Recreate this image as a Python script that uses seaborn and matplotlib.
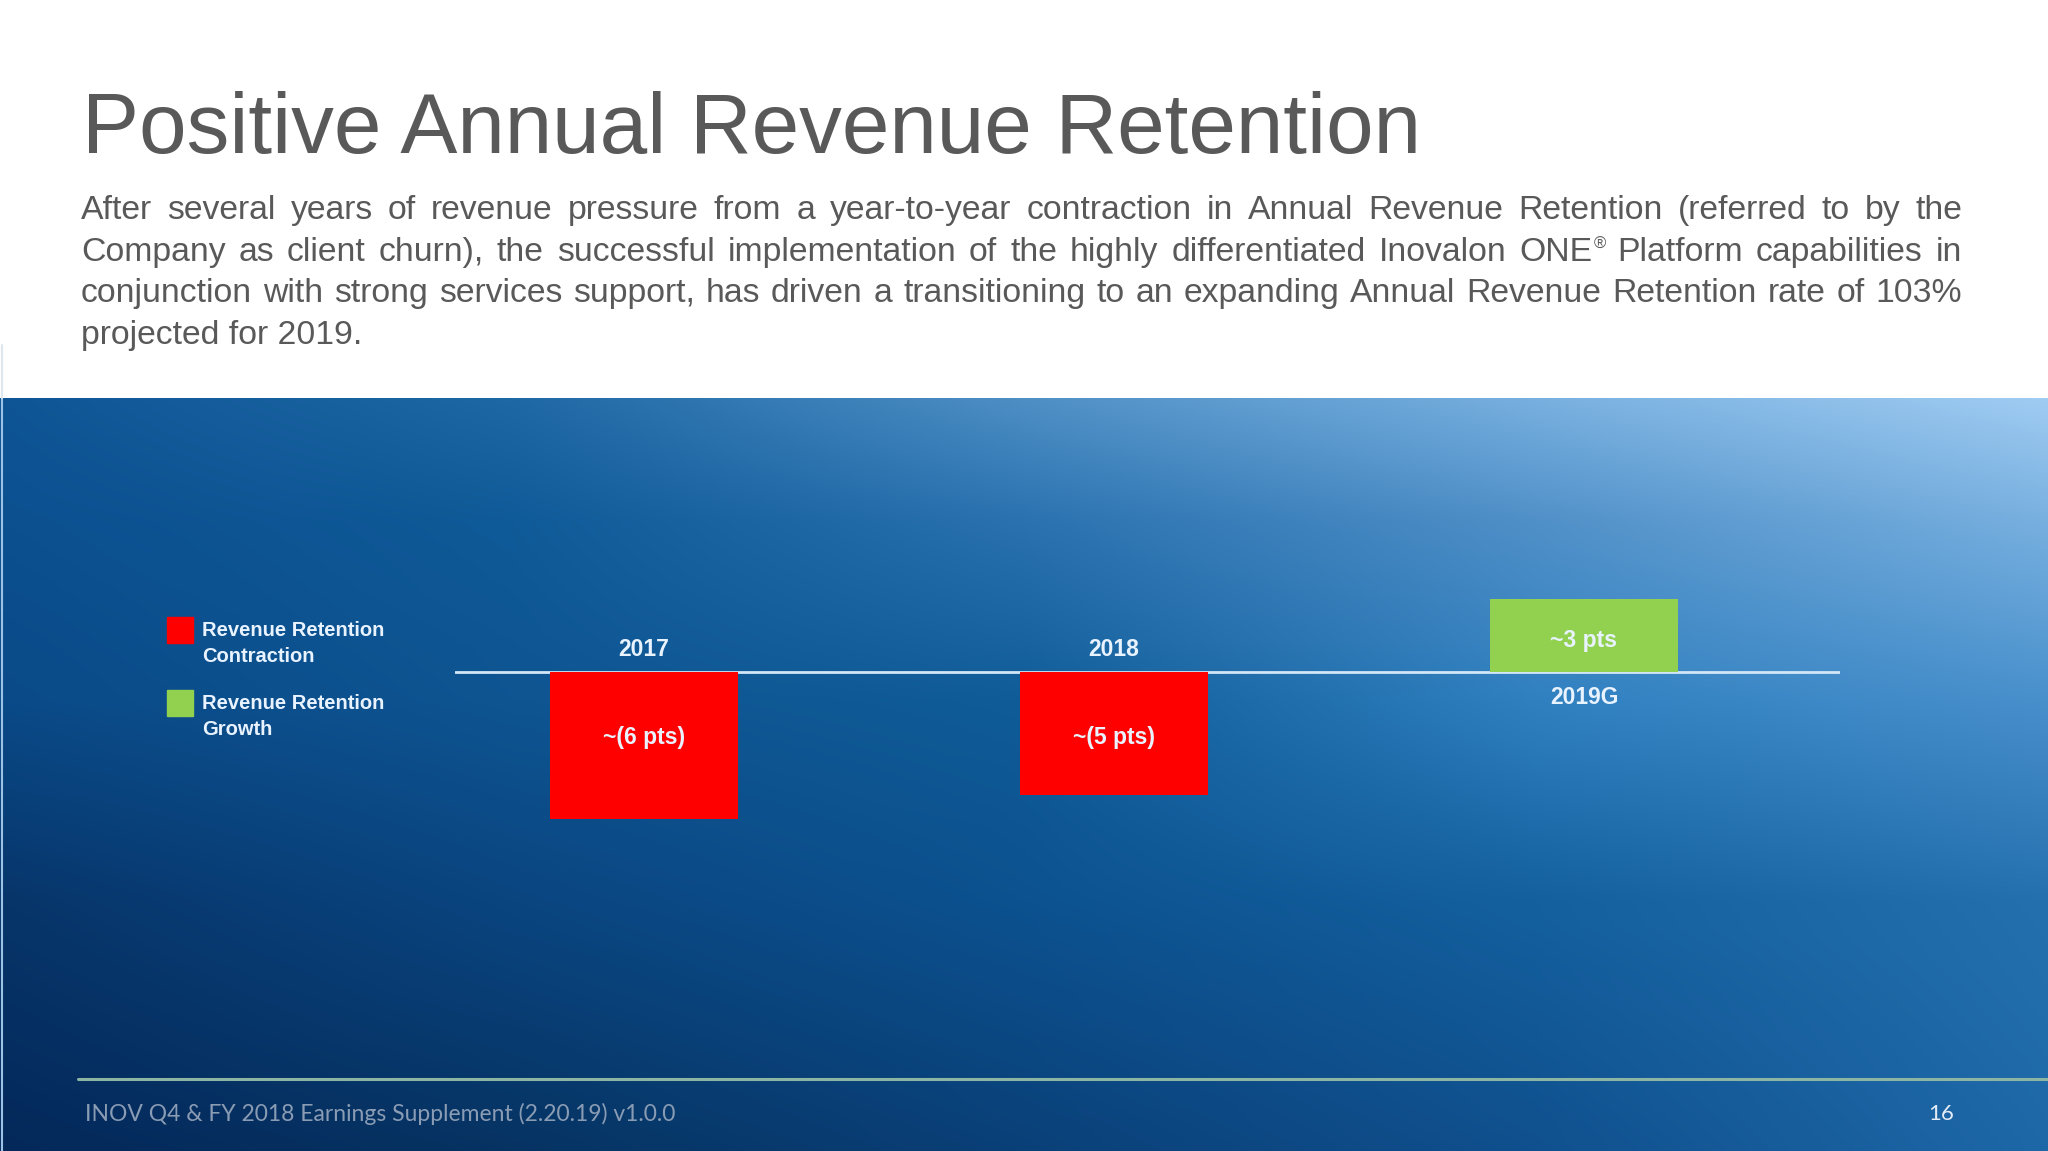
import numpy as np
import pandas as pd
import seaborn as sns
import matplotlib.pyplot as plt
from matplotlib.colors import to_rgb
from matplotlib.patches import Rectangle

# Chart data
years = ['2017', '2018', '2019G']
change_pts = [-6, -5, 3]
value_labels = ['~(6 pts)', '~(5 pts)', '~3 pts']
kinds = ['Contraction', 'Contraction', 'Growth']
legend_kinds = ['Contraction', 'Growth']
legend_labels = ['Revenue Retention\nContraction', 'Revenue Retention\nGrowth']
kind_colors = ['#ff0000', '#92d050']

title = 'Positive Annual Revenue Retention'
body_lines = [
    'After several years of revenue pressure from a year-to-year contraction in Annual Revenue Retention (referred to by the',
    'Company as client churn), the successful implementation of the highly differentiated Inovalon ONE® Platform capabilities in',
    'conjunction with strong services support, has driven a transitioning to an expanding Annual Revenue Retention rate of 103%',
    'projected for 2019.',
]
footer = 'INOV Q4 & FY 2018 Earnings Supplement (2.20.19) v1.0.0'
page_no = '16'

sns.set_theme(style='white')
plt.rcParams['font.family'] = ['Liberation Sans', 'DejaVu Sans']

W, H = 2048, 1151
fig = plt.figure(figsize=(W / 100, H / 100), dpi=100)
fig.patch.set_facecolor('white')

# full-figure axes in pixel units for the slide decoration
bg = fig.add_axes([0, 0, 1, 1])
bg.set_xlim(0, W)
bg.set_ylim(H, 0)
bg.set_axis_off()

# blue gradient panel, interpolated from a coarse grid of sampled colours
top = 398
grid_x = [0, 512, 1024, 1536, 2048]
grid_y = [398, 520, 700, 900, 1151]
grid_c = [
    ['#0e5595', '#1e68a5', '#4e8fc5', '#78b0e0', '#a0ccf2'],
    ['#0c5090', '#0f5a98', '#2a72b0', '#5090c8', '#78b0e0'],
    ['#0a4a88', '#0e5592', '#0f5c98', '#3080c0', '#4890cc'],
    ['#07356a', '#0a4580', '#0c5290', '#14609f', '#2470ae'],
    ['#04285a', '#063362', '#0a4078', '#10508e', '#1e68a8'],
]
xs = np.arange(W)
ys = np.arange(top, H)
rows = np.array([[np.interp(xs, grid_x, [to_rgb(c)[k] for c in row]) for k in range(3)]
                 for row in grid_c])  # (ny, 3, W)
idx = np.interp(ys, grid_y, np.arange(len(grid_y)))
lo = np.floor(idx).astype(int).clip(0, len(grid_y) - 2)
f = (idx - lo)[:, None]
img = np.empty((len(ys), W, 3))
for k in range(3):
    col = rows[:, k, :]
    img[:, :, k] = col[lo] * (1 - f) + col[lo + 1] * f
bg.imshow(np.clip(img, 0, 1), extent=[0, W, H, top], aspect='auto', zorder=0)
bg.plot([1.5, 1.5], [top, H], color='#9cc3e6', lw=1.5, zorder=1)
bg.plot([1.5, 1.5], [345, top], color='#dfe7ee', lw=1.5, zorder=1)

# title and justified paragraph
bg.text(82, 153, title, fontsize=61.6, color='#595959', va='baseline')

renderer = fig.canvas.get_renderer()
left, right = 81, 1962
body_size = 24.3
for i, line in enumerate(body_lines):
    y = 219 + i * 41.5
    if i == len(body_lines) - 1:
        bg.text(left, y, line, fontsize=body_size, color='#595959', va='baseline')
        continue
    pieces = []
    for word in line.split(' '):
        sup = word.endswith('®')
        core = word[:-1] if sup else word
        t = bg.text(0, y, core, fontsize=body_size, color='#595959', va='baseline')
        wc = t.get_window_extent(renderer).width
        s, ws = None, 0
        if sup:
            s = bg.text(0, y - 12, '®', fontsize=12, color='#595959', va='baseline')
            ws = s.get_window_extent(renderer).width
        pieces.append((t, s, wc, ws))
    total = sum(p[2] + p[3] for p in pieces)
    gap = (right - left - total) / (len(pieces) - 1)
    x = left
    for t, s, wc, ws in pieces:
        t.set_x(x)
        if s is not None:
            s.set_x(x + wc + 1)
        x += wc + ws + gap

# chart axes: zero line at y=672 px, 24.5 px per point
zero_y, ppt = 672, 24.5
ylo, yhi = -8, 4
ax_top, ax_bot = zero_y - yhi * ppt, zero_y - ylo * ppt
x0, x1, cx0, step = 455, 1840, 644, 470
ax = fig.add_axes([x0 / W, 1 - ax_bot / H, (x1 - x0) / W, (ax_bot - ax_top) / H])
ax.patch.set_alpha(0)

df = pd.DataFrame({'year': years, 'pts': change_pts, 'kind': kinds})
sns.barplot(data=df, x='year', y='pts', hue='kind', hue_order=legend_kinds,
            palette=dict(zip(legend_kinds, kind_colors)), dodge=False, width=0.4,
            saturation=1, linewidth=0, legend=False, ax=ax, zorder=2)
ax.axhline(0, color='#d2e6f7', lw=2, zorder=1)
ax.set_xlim((x0 - cx0) / step, (x1 - cx0) / step)
ax.set_ylim(ylo, yhi)
ax.set_axis_off()

label_color = '#e8f3ff'
for i, (yr, val, lab) in enumerate(zip(years, change_pts, value_labels)):
    ax.text(i, 0.9 if val < 0 else -1.06, yr, ha='center', va='center',
            fontsize=16.5, fontweight='bold', color=label_color)
    ax.text(i, val * 0.43 if val > 0 else -2.69, lab, ha='center', va='center',
            fontsize=16.5, fontweight='bold', color=label_color)

# legend, drawn by hand so the swatch sits beside the first line
for j, (lab, col) in enumerate(zip(legend_labels, kind_colors)):
    y0 = 617 + j * 73
    bg.add_patch(Rectangle((167, y0), 26, 26, color=col, zorder=3))
    bg.text(202, y0 + 45, lab, fontsize=14.5, fontweight='bold', color=label_color,
            va='baseline', linespacing=1.44, zorder=3)

# footer
bg.plot([78, W], [1079, 1079], color='#8db5a3', lw=2.2, zorder=2)
bg.text(85, 1114, footer, fontsize=16.5, color='#8a9cb4', va='center',
        family=['Lato', 'DejaVu Sans'], zorder=3)
bg.text(1941, 1114, page_no, fontsize=16, color='#e3ecf6', va='center', ha='center',
        family=['Lato', 'DejaVu Sans'], zorder=3)

fig.savefig('out.png', dpi=100)
